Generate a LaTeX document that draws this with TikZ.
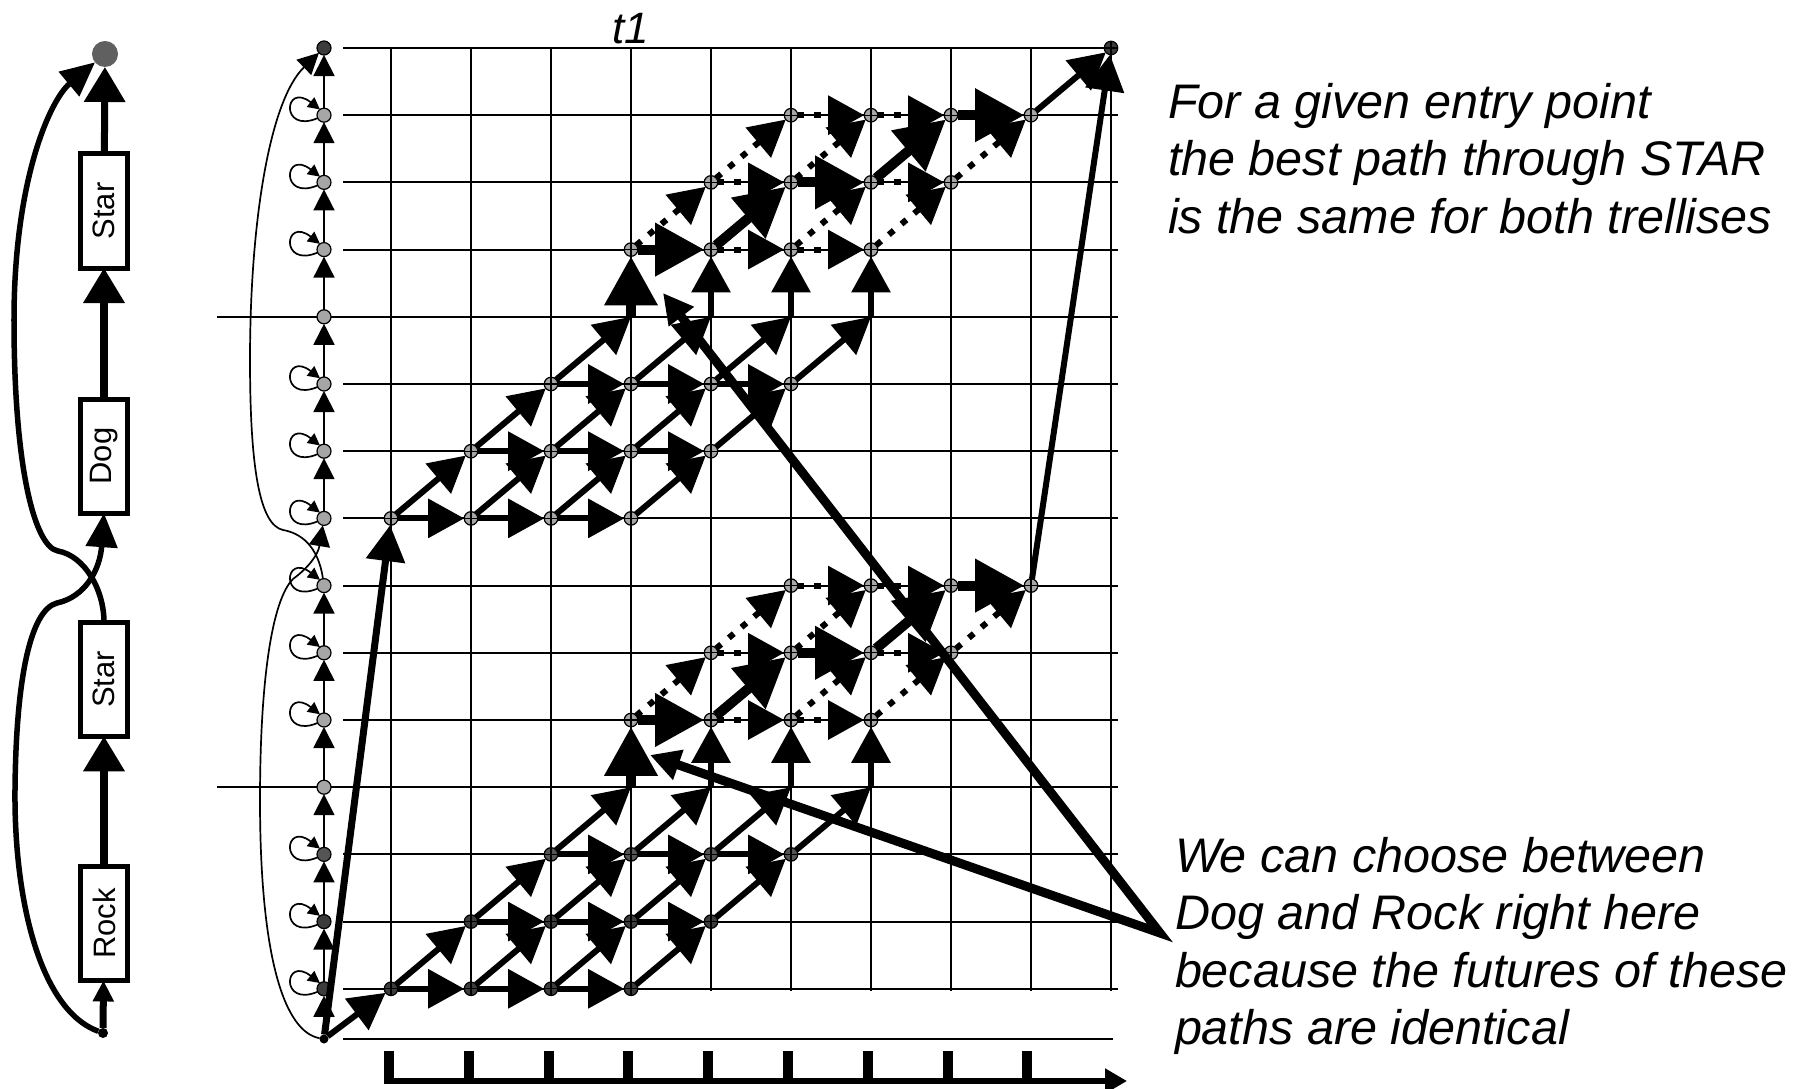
\documentclass[tikz,border=0pt]{standalone}
\usepackage{graphicx}
\usepackage{fontspec}
\setmainfont{Liberation Sans}
\usetikzlibrary{arrows.meta,positioning,calc}

\definecolor{lightnode}{HTML}{A6A6A6}
\definecolor{midnode}{HTML}{555555}
\definecolor{darknode}{HTML}{3C3C3C}
\definecolor{goalgray}{HTML}{606060}

\begin{document}
\begin{tikzpicture}[
  x=0.01cm, y=-0.01cm,
  every node/.style={inner sep=0pt, outer sep=0pt},
  gridline/.style={line width=0.02cm},
  wordbox/.style={draw, line width=0.05cm, minimum width=0.46cm, minimum height=1.14cm, font=\fontsize{8.8}{10}\selectfont},
  modelarrow/.style={line width=0.07cm, -{Triangle[length=0.35cm, width=0.40cm]}},
  modelcurve/.style={line width=0.055cm, -{Triangle[length=0.34cm, width=0.31cm]}},
  snode/.style={circle, draw, line width=0.012cm, minimum size=0.14cm, fill=lightnode},
  tnode/.style={snode, minimum size=0.135cm, path picture={\draw[line width=0.012cm] (path picture bounding box.north) -- (path picture bounding box.south) (path picture bounding box.west) -- (path picture bounding box.east);}},
  chain/.style={line width=0.017cm, -{Triangle[length=0.21cm, width=0.21cm]}},
  selfloop/.style={line width=0.017cm, -{Triangle[length=0.12cm, width=0.12cm]}},
  med/.style={line width=0.06cm, -{Triangle[length=0.36cm, width=0.38cm]}},
  best/.style={line width=0.10cm, -{Triangle[length=0.49cm, width=0.51cm]}},
  dotarrow/.style={med, dash pattern=on 0.065cm off 0.1cm},
  callout/.style={line width=0.09cm, {Triangle[length=0.30cm, width=0.30cm]}-{Triangle[length=0.30cm, width=0.30cm]}},
  note/.style={anchor=north west, align=left, font=\fontsize{13.8}{16.36}\selectfont\itshape}
]
\useasboundingbox (0,0) rectangle (1803,1089);

% word model
\node[circle, fill=goalgray, minimum size=0.26cm] (goal) at (105,54) {};
\node[wordbox] (startop) at (104,211) {\rotatebox{90}{Star}};
\node[wordbox, below=1.31cm of startop] (dog) {\rotatebox{90}{Dog}};
\node[wordbox, below=1.09cm of dog] (starlow) {\rotatebox{90}{Star}};
\node[wordbox, below=1.30cm of starlow] (rock) {\rotatebox{90}{Rock}};
\node[circle, fill=black, minimum size=0.1cm] (begin) at (103,1033) {};
\draw[modelarrow] (startop) -- (goal);
\draw[modelarrow] (dog) -- (startop);
\draw[modelarrow] (rock) -- (starlow);
\draw[line width=0.07cm, -{Triangle[length=0.21cm, width=0.20cm]}] (begin) -- (rock);
\draw[modelcurve] (starlow.north) .. controls (104,590) and (85,556) .. (58,551)
  .. controls (35,547) and (14,470) .. (14,320) .. controls (14,180) and (50,100) .. (goal);
\draw[modelcurve] (begin) .. controls (40,1010) and (14,900) .. (15,790)
  .. controls (16,680) and (30,610) .. (57,603) .. controls (85,597) and (100,570) .. (dog.south);

% grid
\foreach \r in {0,...,14}
  \draw[gridline] (343,{48+67.2*\r}) -- (1118,{48+67.2*\r});
\draw[gridline] (217,316.8) -- (343,316.8);
\draw[gridline] (217,787.2) -- (343,787.2);
\draw[gridline] (343,1039) -- (1113,1039);
\foreach \c in {0,...,9}
  \draw[gridline] ({391+80*\c},48) -- ({391+80*\c},991);
\node[font=\fontsize{12.5}{15}\selectfont\itshape, anchor=base] (tlabel) at (631,44) {t1};

% state column
\node[snode, fill=darknode] (s0) at (324,48) {};
\foreach \r in {1,...,11}
  \node[snode] (s\r) at (324,{48+67.2*\r}) {};
\node[snode, fill=midnode] (s12) at (324,854.4) {};
\node[snode, fill=darknode] (s13) at (324,921.6) {};
\node[snode, fill=darknode] (s14) at (324,988.8) {};
\node[circle, fill=black, minimum size=0.09cm] (s15) at (324,1039) {};
\foreach \a/\b in {15/14,14/13,13/12,12/11,11/10,10/9,9/8,7/6,6/5,5/4,4/3,3/2,2/1,1/0}
  \draw[chain] (s\a) -- (s\b);
\foreach \r in {1,2,3,5,6,7,8,9,10,12,13,14}
  \draw[selfloop] (s\r.205) .. controls +(-38,16) and +(-36,-28) .. (s\r.125);
\draw[chain] (s8) .. controls (318,545) and (300,533) .. (283,530)
  .. controls (260,525) and (250,470) .. (250,360) .. controls (250,220) and (270,100) .. (s0);
\draw[chain] (s15) .. controls (285,1032) and (260,960) .. (260,800)
  .. controls (260,680) and (272,600) .. (293,579) .. controls (308,568) and (318,555) .. (s7);

% trellises
\node[tnode, fill=darknode] (final) at (1111,48) {};
\foreach \p/\b/\fa/\fb in {u/7/lightnode/lightnode,l/14/darknode/midnode}{
  \foreach \L/\s/\f in {0/0/\fa,1/1/\fa,2/2/\fb,4/3/lightnode,5/4/lightnode,6/5/lightnode}{
    \foreach \j in {0,...,3}{
      \pgfmathtruncatemacro{\k}{\s+\j}
      \node[tnode, fill=\f] (\p\L-\k) at ({391+80*\k},{48+67.2*(\b-\L)}) {};
    }
  }
  \foreach \k in {3,...,6}
    \coordinate (\p3-\k) at ({391+80*\k},{48+67.2*(\b-3)});
}
\foreach \p in {u,l}{
  \foreach \a/\b in {0-0/0-1,0-1/0-2,0-2/0-3,1-1/1-2,1-2/1-3,1-3/1-4,2-2/2-3,2-3/2-4,2-4/2-5,
                     0-0/1-1,0-1/1-2,0-2/1-3,0-3/1-4,1-1/2-2,1-2/2-3,1-3/2-4,1-4/2-5,
                     2-2/3-3,2-3/3-4,2-4/3-5,2-5/3-6,3-4/4-4,3-5/4-5,3-6/4-6}
    \draw[med] (\p\a) -- (\p\b);
  \foreach \a/\b in {4-4/4-5,4-5/4-6,4-3/5-4,4-5/5-6,4-6/5-7,5-4/5-5,5-6/5-7,5-4/6-5,5-5/6-6,5-7/6-8,6-5/6-6,6-6/6-7}
    \draw[dotarrow] (\p\a) -- (\p\b);
  \foreach \a/\b in {3-3/4-3,4-3/4-4,4-4/5-5,5-5/5-6,5-6/6-7,6-7/6-8}
    \draw[best] (\p\a) -- (\p\b);
}
\draw[med, line width=0.07cm] (s15) -- (u0-0);
\draw[med] (s15) -- (l0-0);
\draw[med] (u6-8) -- (final);
\draw[med] (l6-8) -- (final);

% time axis
\foreach \k in {0,...,8}
  \draw[line width=0.1cm] ({389+79.8*\k},1051) -- ({389+79.8*\k},1083);
\coordinate (axisstart) at (384,1081);
\coordinate (axisend) at (1127,1081);
\draw[line width=0.05cm, -{Triangle[length=0.22cm, width=0.24cm]}] (axisstart) -- (axisend);

% notes
\node[note] (bestnote) at (1168,83) {For a given entry point\\the best path through STAR\\is the same for both trellises};
\node[note] (choosenote) at (1175,837) {We can choose between\\Dog and Rock right here\\because the futures of these\\paths are identical};
\coordinate (callpt) at (1160,933);
\coordinate (calltop) at (663,293);
\coordinate (calllow) at (650,755);
\draw[callout] (calltop) -- (callpt) -- (calllow);
\end{tikzpicture}
\end{document}
